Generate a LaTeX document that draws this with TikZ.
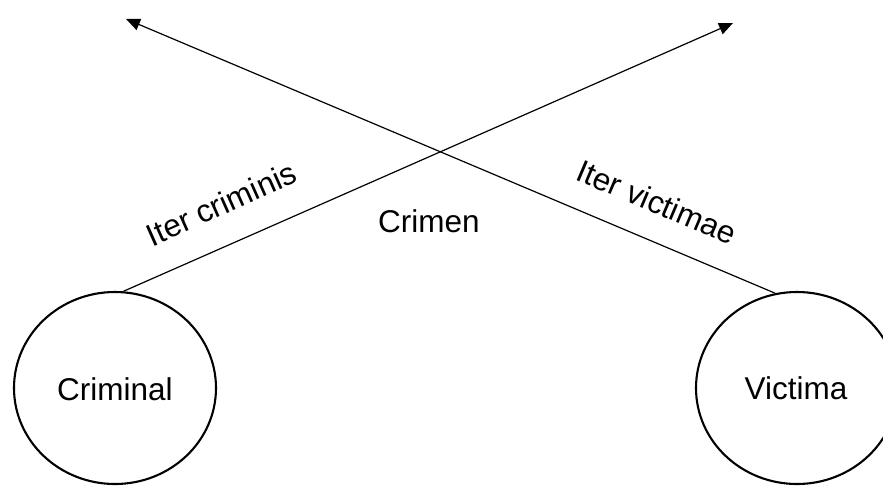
\documentclass[tikz,border=0pt]{standalone}
\usepackage{fontspec}
\setmainfont{Liberation Sans}
\usetikzlibrary{shapes.geometric,arrows.meta}

\begin{document}
\begin{tikzpicture}[x=1pt,y=-1pt,
  party/.style={ellipse,draw,line width=2.1pt,minimum width=202pt,minimum height=192pt,inner sep=0pt},
  label/.style={inner sep=0pt,font=\fontsize{31.5}{36}\selectfont},
  path/.style={line width=1.2pt,-{Triangle[length=14pt,width=12pt]}}]
  \useasboundingbox (0,0) rectangle (883,485);
  \clip (0,0) rectangle (883,485);

  % the two parties
  \node[party] (crim) at (115,388) {};
  \node[party] (vic) at (797,388) {};
  \node[label] (crimtext) at (115,389) {Criminal};
  \node[label] (victext) at (796,388) {Victima};

  % far ends of the two paths
  \coordinate (critip) at (733,23);
  \coordinate (victip) at (126,19);

  \draw[path] (crim.85) -- (critip);
  \draw[path] (vic.103) -- (victip);

  % path names and the meeting point
  \node[label,rotate=24] (itercrim) at (221,204) {Iter criminis};
  \node[label,rotate=-23] (itervict) at (657,202) {Iter victimae};
  \node[label] (crimen) at (429,221) {Crimen};
\end{tikzpicture}
\end{document}
